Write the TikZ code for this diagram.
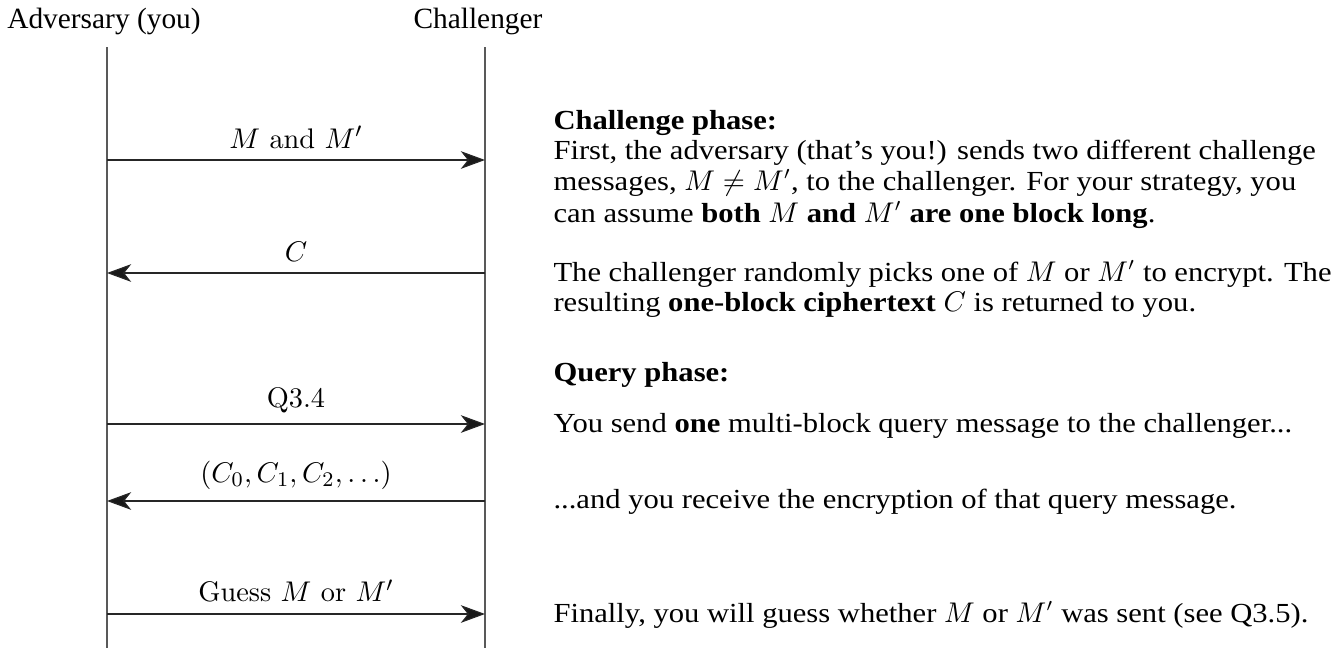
\documentclass[tikz,border=0pt]{standalone}
\usepackage[no-math]{fontspec}
\newfontfamily\libfont{Liberation Serif}
\newfontfamily\bodyfont[FakeStretch=1.11]{Liberation Serif}
\usetikzlibrary{arrows.meta}

\begin{document}
\begin{tikzpicture}[
  x=0.3846pt, y=-0.3846pt,
  party/.style={anchor=base, inner sep=0pt, font=\libfont\fontsize{11.3}{13}\selectfont},
  lifeline/.style={line width=0.45pt, draw=black!65},
  msg/.style={line width=0.45pt, draw=black!85, -{Stealth[length=9.3pt, width=6.8pt, inset=2.7pt, fill=black!90]}},
  lbl/.style={above, inner sep=4.2pt, text=black, font=\fontsize{10.9}{13}\selectfont},
  note/.style={anchor=base west, inner sep=0pt, font=\bodyfont\fontsize{10.6}{12.5}\selectfont},
]
\useasboundingbox (0,0) rectangle (1343,648);

% the two parties and their lifelines
\node[party] (adv)  at (104,28) {Adversary (you)};
\node[party] (chal) at (478,28) {Challenger};
\coordinate (advTop)  at (107,47);
\coordinate (advBot)  at (107,648);
\coordinate (chalTop) at (485,47);
\coordinate (chalBot) at (485,648);
\draw[lifeline] (advTop) -- (advBot);
\draw[lifeline] (chalTop) -- (chalBot);

% message endpoints on the lifelines
\foreach \n/\y in {1/160, 2/273, 3/424, 4/501, 5/614} {
  \coordinate (a\n) at (107,\y);
  \coordinate (c\n) at (485,\y);
}

% messages
\draw[msg] (a1) -- node[lbl] {$M$ and $M'$} (c1);
\draw[msg] (c2) -- node[lbl] {$C$} (a2);
\draw[msg] (a3) -- node[lbl] {Q3.4} (c3);
\draw[msg] (c4) -- node[lbl] {$(C_0, C_1, C_2, \ldots)$} (a4);
\draw[msg] (a5) -- node[lbl] {Guess $M$ or $M'$} (c5);

% explanation column
\node[note] (t1)  at (553,129) {\bfseries Challenge phase:};
\node[note] (t2)  at (553,159) {First, the adversary (that’s you!) sends two different challenge};
\node[note] (t3)  at (553,190) {messages, $M \neq M'$, to the challenger. For your strategy, you};
\node[note] (t4)  at (553,222) {can assume \textbf{both $M$ and $M'$ are one block long}.};
\node[note] (t5)  at (553,281) {The challenger randomly picks one of $M$ or $M'$ to encrypt. The};
\node[note] (t6)  at (553,311) {resulting \textbf{one-block ciphertext} $C$ is returned to you.};
\node[note] (t7)  at (553,381) {\bfseries Query phase:};
\node[note] (t8)  at (553,432) {You send \textbf{one} multi-block query message to the challenger...};
\node[note] (t9)  at (553,508) {...and you receive the encryption of that query message.};
\node[note] (t10) at (553,622) {Finally, you will guess whether $M$ or $M'$ was sent (see Q3.5).};
\end{tikzpicture}
\end{document}
